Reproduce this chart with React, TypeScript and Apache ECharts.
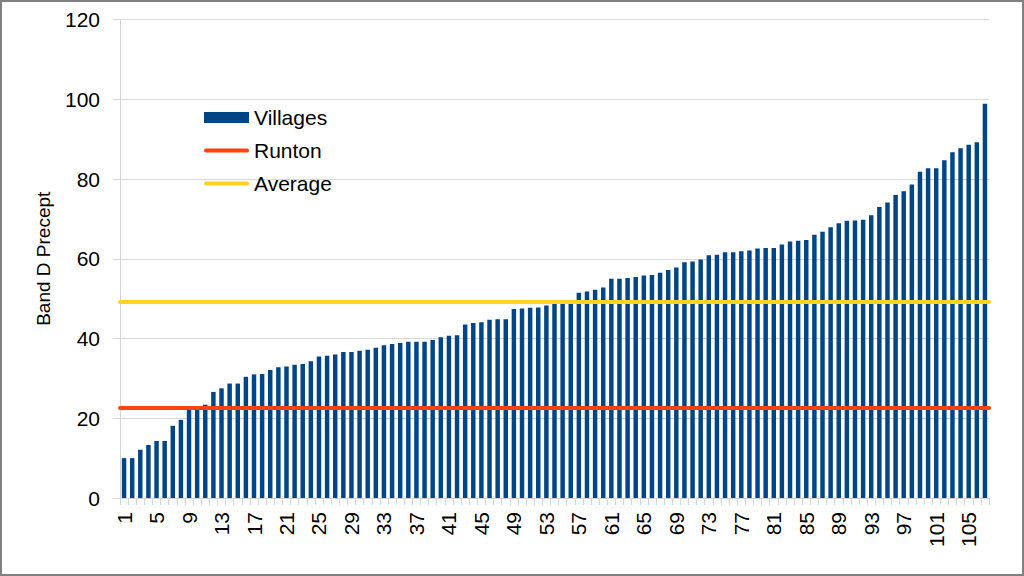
import React, { useEffect, useRef } from "react";
import * as echarts from "echarts";

const categories = [
  "1","2","3","4","5","6","7","8","9","10","11","12","13","14","15","16","17","18","19","20",
  "21","22","23","24","25","26","27","28","29","30","31","32","33","34","35","36","37","38","39","40",
  "41","42","43","44","45","46","47","48","49","50","51","52","53","54","55","56","57","58","59","60",
  "61","62","63","64","65","66","67","68","69","70","71","72","73","74","75","76","77","78","79","80",
  "81","82","83","84","85","86","87","88","89","90","91","92","93","94","95","96","97","98","99","100",
  "101","102","103","104","105","106","107",
];

const villages = [
  10.0, 10.0, 12.1, 13.3, 14.3, 14.3, 18.1, 19.6, 22.1, 22.1,
  23.4, 26.6, 27.5, 28.7, 28.7, 30.4, 31.0, 31.1, 32.1, 32.8,
  33.0, 33.4, 33.6, 34.3, 35.5, 35.7, 36.0, 36.6, 36.6, 36.9,
  37.2, 37.7, 38.3, 38.6, 38.9, 39.2, 39.2, 39.2, 39.6, 40.3,
  40.7, 40.8, 43.5, 43.9, 44.1, 44.7, 44.8, 44.8, 47.4, 47.5,
  47.7, 47.8, 48.3, 48.7, 49.0, 49.3, 51.5, 51.8, 52.2, 52.8,
  55.0, 55.0, 55.2, 55.4, 55.8, 55.9, 56.5, 57.2, 57.8, 59.1,
  59.3, 59.8, 60.9, 61.0, 61.6, 61.6, 61.9, 62.1, 62.6, 62.7,
  62.7, 63.6, 64.3, 64.5, 64.7, 66.0, 66.8, 67.9, 68.9, 69.5,
  69.6, 69.8, 70.9, 73.0, 74.1, 76.0, 76.9, 78.6, 81.8, 82.7,
  82.7, 84.7, 86.7, 87.7, 88.6, 89.2, 98.9,
];

const runton = 22.7;
const average = 49.3;

const FONT = "'Liberation Sans', Arial, sans-serif";
const LINE_ICON = "path://M2,0 L45,0 A2,2 0 0 1 45,4 L2,4 A2,2 0 0 1 2,0 Z";

export default function App() {
  const ref = useRef<HTMLDivElement>(null);

  useEffect(() => {
    document.body.style.margin = "0";
    if (!ref.current) return;
    const chart = echarts.init(ref.current, undefined, { renderer: "svg" });
    chart.setOption({
      animation: false,
      backgroundColor: "#ffffff",
      textStyle: { fontFamily: FONT, color: "#000000" },
      grid: { left: 120, right: 35, top: 19.5, bottom: 78, containLabel: false },
      legend: {
        show: true,
        orient: "vertical",
        left: 199,
        top: 102,
        itemWidth: 45,
        itemHeight: 11,
        itemGap: 12,
        symbolKeepAspect: true,
        textStyle: { fontSize: 21, lineHeight: 21, color: "#000000", fontFamily: FONT },
        data: [
          { name: "Villages", icon: "rect" },
          { name: "Runton", icon: LINE_ICON },
          { name: "Average", icon: LINE_ICON },
        ],
      },
      xAxis: {
        type: "category",
        data: categories,
        boundaryGap: true,
        axisLine: { show: true, lineStyle: { color: "#d4d4d4", width: 1 } },
        axisTick: { show: true, interval: 0, length: 7, alignWithLabel: false, lineStyle: { color: "#d4d4d4" } },
        axisLabel: {
          interval: 3,
          rotate: 90,
          margin: 14,
          fontSize: 21,
          color: "#000000",
          fontFamily: FONT,
        },
        splitLine: { show: false },
      },
      yAxis: {
        type: "value",
        min: 0,
        max: 120,
        interval: 20,
        name: "Band D Precept",
        nameLocation: "middle",
        nameGap: 67,
        nameRotate: 90,
        nameTextStyle: { fontSize: 19, color: "#000000", fontFamily: FONT },
        axisLine: { show: true, lineStyle: { color: "#d4d4d4", width: 1 } },
        axisTick: { show: true, length: 7, lineStyle: { color: "#d4d4d4" } },
        axisLabel: { margin: 20, fontSize: 21, color: "#000000", fontFamily: FONT },
        splitLine: { show: true, lineStyle: { color: "#d9d9d9", width: 1 } },
      },
      graphic: [
        {
          type: "rect",
          shape: { x: 1, y: 1, width: 1022, height: 574 },
          style: { fill: "none", stroke: "#808080", lineWidth: 2 },
          silent: true,
          z: 100,
        },
      ],
      series: [
        {
          name: "Villages",
          type: "bar",
          data: villages,
          barWidth: "55%",
          itemStyle: { color: "#004586" },
          z: 2,
        },
        {
          name: "Runton",
          type: "line",
          data: [],
          symbol: "none",
          lineStyle: { color: "#ff420e", width: 4 },
          itemStyle: { color: "#ff420e" },
          markLine: {
            silent: true,
            symbol: "none",
            label: { show: false },
            lineStyle: { color: "#ff420e", width: 4, type: "solid", cap: "round" },
            data: [{ yAxis: runton }],
          },
          z: 5,
        },
        {
          name: "Average",
          type: "line",
          data: [],
          symbol: "none",
          lineStyle: { color: "#ffd320", width: 4 },
          itemStyle: { color: "#ffd320" },
          markLine: {
            silent: true,
            symbol: "none",
            label: { show: false },
            lineStyle: { color: "#ffd320", width: 4, type: "solid", cap: "round" },
            data: [{ yAxis: average }],
          },
          z: 5,
        },
      ],
    });
    return () => chart.dispose();
  }, []);

  return <div ref={ref} style={{ width: 1024, height: 576 }} />;
}
